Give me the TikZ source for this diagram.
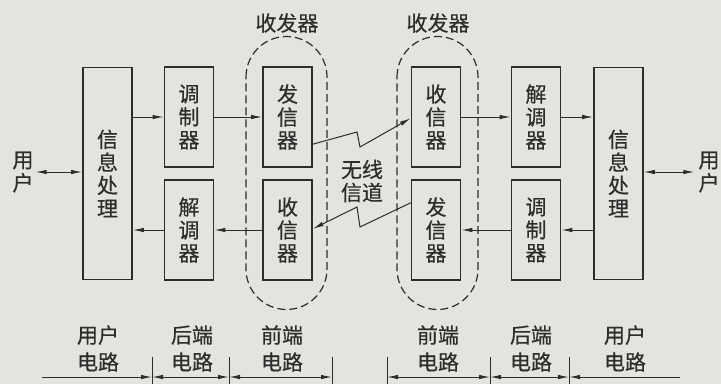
\documentclass[tikz,border=0pt]{standalone}
\usepackage{fontspec}
\setmainfont{Noto Sans CJK SC}[BoldFont={Noto Sans CJK SC},BoldFeatures={FakeBold=0.5}]
\usetikzlibrary{arrows.meta,calc}
\definecolor{bgc}{RGB}{229,227,222}
\definecolor{ink}{RGB}{45,45,45}
\begin{document}
\begin{tikzpicture}[x=1pt,y=-1pt,
  every node/.style={text=ink},
  blk/.style={draw=ink,line width=1.6pt,minimum width=49pt,inner sep=0pt,align=center,
    font=\fontsize{21}{23}\selectfont\bfseries},
  lbl/.style={inner sep=0pt,align=center,font=\fontsize{21}{23}\selectfont\bfseries},
  dlbl/.style={inner sep=0pt,align=center,font=\fontsize{21}{27}\selectfont\bfseries},
  arr/.style={draw=ink,line width=1pt,-{Latex[length=11pt,width=4.5pt]}},
  darr/.style={draw=ink,line width=1pt,{Latex[length=11pt,width=4.5pt]}-{Latex[length=11pt,width=4.5pt]}},
  capsule/.style={draw=ink,line width=1.2pt,dash pattern=on 8pt off 4pt},
  tickln/.style={draw=ink,line width=1pt}]
\fill[bgc] (0,0) rectangle (721,384);
\useasboundingbox (0,0) rectangle (721,384);

% boxes
\node[blk,minimum height=212pt] (infoL) at (107.5,173.5) {信\\息\\处\\理};
\node[blk,minimum height=100pt] (modL) at (189,117) {调\\制\\器};
\node[blk,minimum height=100pt] (demL) at (189,230) {解\\调\\器};
\node[blk,minimum height=100pt] (txL) at (287.5,117) {发\\信\\器};
\node[blk,minimum height=100pt] (rxL) at (287.5,230) {收\\信\\器};
\node[blk,minimum height=100pt] (rxR) at (436,117) {收\\信\\器};
\node[blk,minimum height=100pt] (txR) at (436,230) {发\\信\\器};
\node[blk,minimum height=100pt] (demR) at (536,117) {解\\调\\器};
\node[blk,minimum height=100pt] (modR) at (536,230) {调\\制\\器};
\node[blk,minimum height=212pt] (infoR) at (618.5,173.5) {信\\息\\处\\理};

% transceiver capsules
\draw[capsule] (246,77) arc[start angle=180,end angle=360,radius=40.5] -- (327,269)
  arc[start angle=0,end angle=180,radius=40.5] -- cycle;
\draw[capsule] (397,77) arc[start angle=180,end angle=360,radius=40.5] -- (478,269)
  arc[start angle=0,end angle=180,radius=40.5] -- cycle;
\node[lbl] (trxL) at (287,23) {收发器};
\node[lbl] (trxR) at (438,23) {收发器};

% users
\node[lbl] (userL) at (23,172) {用\\户};
\node[lbl] (userR) at (709,172) {用\\户};
\draw[darr] ([xshift=2pt]userL.east) -- (infoL.west |- userL.east);
\draw[darr] (infoR.east |- userR.west) -- ([xshift=-4pt]userR.west);

% signal arrows
\draw[arr] (infoL.east |- modL.west) -- (modL.west);
\draw[arr] (modL.east) -- (txL.west);
\draw[arr] (rxL.west) -- (demL.east);
\draw[arr] (demL.west) -- (infoL.east |- demL.west);
\draw[arr] (rxR.east) -- (demR.west);
\draw[arr] (demR.east) -- (infoR.west |- demR.east);
\draw[arr] (infoR.west |- modR.east) -- (modR.east);
\draw[arr] (modR.west) -- (txR.east);

% wireless channel
\node[lbl] (chan) at (362,181) {无线\\信道};
\coordinate (za) at (357,132);
\coordinate (zb) at (360,147);
\coordinate (zc) at (360,227);
\coordinate (zd) at (357,207);
\draw[arr] ($(txL.north east)+(0,78)$) -- (za) -- (zb) -- ($(rxR.north west)+(0,52)$);
\draw[arr] ($(txR.south west)+(0,-78)$) -- (zc) -- (zd) -- ($(rxL.south east)+(0,-52)$);

% bottom dimension lines
\foreach \x in {152,229,332,387,490,569} \draw[tickln] (\x,357) -- (\x,384);
\coordinate (e0) at (42,377);
\coordinate (e1) at (152,377);
\coordinate (e2) at (229,377);
\coordinate (e3) at (332,377);
\coordinate (e4) at (387,377);
\coordinate (e5) at (490,377);
\coordinate (e6) at (569,377);
\coordinate (e7) at (680,377);
\draw[arr] (e0) -- (e1);
\draw[darr] (e1) -- (e2);
\draw[darr] (e2) -- (e3);
\draw[darr] (e4) -- (e5);
\draw[darr] (e5) -- (e6);
\draw[arr] (e7) -- (e6);

\node[dlbl] (c1) at (98,348.5) {用户\\电路};
\node[dlbl] (c2) at (192,348.5) {后端\\电路};
\node[dlbl] (c3) at (282,348.5) {前端\\电路};
\node[dlbl] (c4) at (438,348.5) {前端\\电路};
\node[dlbl] (c5) at (531,348.5) {后端\\电路};
\node[dlbl] (c6) at (625,348.5) {用户\\电路};
\end{tikzpicture}
\end{document}
